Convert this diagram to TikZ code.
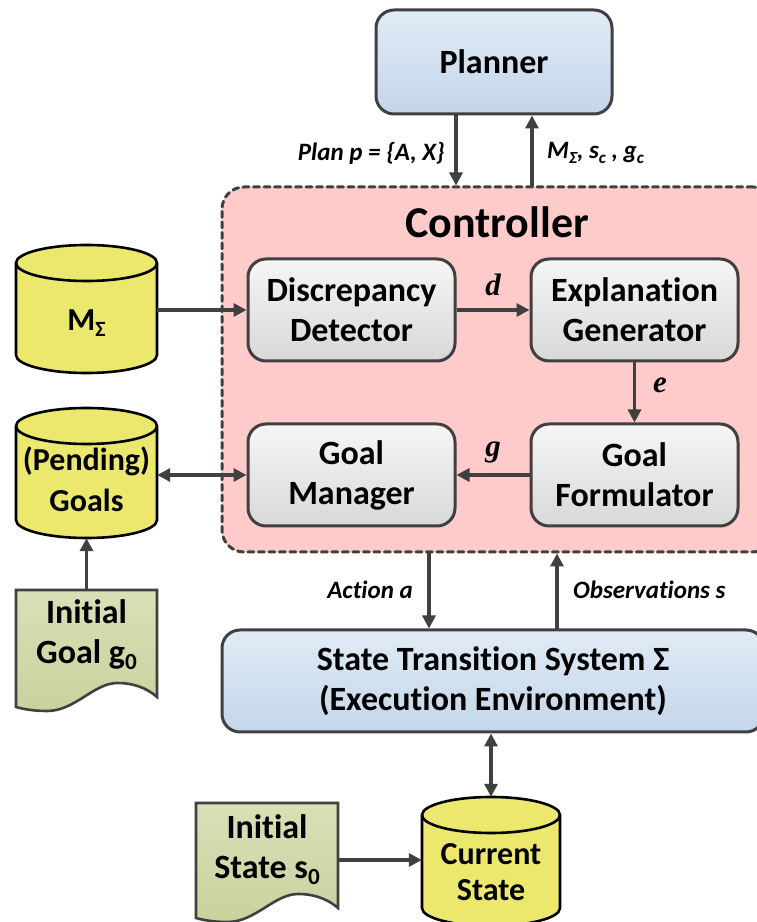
\documentclass[tikz,border=0pt]{standalone}
\usepackage{fontspec}
\setmainfont[Ligatures=NoCommon]{Carlito}
\newfontfamily\serifit{Liberation Serif}
\usepackage{graphicx}
\usetikzlibrary{arrows.meta,calc}
\definecolor{edge}{HTML}{404040}
\definecolor{ctrlfill}{HTML}{FFCACA}
\definecolor{cylfill}{HTML}{ECE86E}
\definecolor{bluetop}{HTML}{E1EBF5}
\definecolor{bluebot}{HTML}{C3D6EA}
\definecolor{graytop}{HTML}{F6F6F6}
\definecolor{graybot}{HTML}{D8D8D8}
\definecolor{doctop}{HTML}{D9E0B7}
\definecolor{docbot}{HTML}{C8D29E}
\newcommand{\lowsub}[1]{\raisebox{-0.38ex}{\scalebox{0.68}{#1}}}
\newcommand{\cylshape}[6]{%
  \filldraw[cylst] ({#1},{#3-#6}) -- ({#1},{#4+#6})
    arc[start angle=180,end angle=360,x radius=#5pt,y radius=#6pt]
    -- ({#2},{#3-#6})
    arc[start angle=0,end angle=180,x radius=#5pt,y radius=#6pt] -- cycle;
  \draw[cylst,fill=none] ({#1},{#3-#6})
    arc[start angle=180,end angle=360,x radius=#5pt,y radius=#6pt];}
\newcommand{\docshape}[4]{%
  \filldraw[docst] (#1,#3) -- ({#1+#2},#3) -- ({#1+#2},#4)
    .. controls ({#1+0.92*#2},{#4+10}) and ({#1+0.82*#2},{#4+14}) .. ({#1+0.72*#2},{#4+14})
    .. controls ({#1+0.55*#2},{#4+14}) and ({#1+0.42*#2},{#4-14}) .. ({#1+0.22*#2},{#4-14})
    .. controls ({#1+0.12*#2},{#4-14}) and ({#1+0.05*#2},{#4-12}) .. (#1,{#4-10}) -- cycle;}
\begin{document}
\begin{tikzpicture}[x=1pt,y=1pt,
  bigtxt/.style={font=\fontsize{34}{40}\selectfont\bfseries, align=center},
  inner/.style={bigtxt, draw=edge, line width=3pt, rounded corners=18pt,
    top color=graytop, bottom color=graybot, minimum width=207pt, minimum height=102pt, inner sep=0pt},
  bluebox/.style={bigtxt, draw=edge, line width=3pt, rounded corners=18pt,
    top color=bluetop, bottom color=bluebot, inner sep=0pt},
  ctrlbox/.style={draw=edge, line width=3pt, dash pattern=on 6pt off 4.5pt, line cap=round,
    rounded corners=22pt, fill=ctrlfill, minimum width=553pt, minimum height=365pt},
  cylst/.style={draw=black, line width=2.6pt, fill=cylfill},
  docst/.style={draw=edge, line width=2.6pt, top color=doctop, bottom color=docbot},
  anchorbox/.style={draw=none, inner sep=0pt},
  arr/.style={draw=edge, line width=3.2pt, -{Triangle[length=13pt,width=13pt]}},
  biarr/.style={draw=edge, line width=3.2pt, {Triangle[length=13pt,width=13pt]}-{Triangle[length=13pt,width=13pt]}},
  lab/.style={font=\fontsize{25}{28}\selectfont\bfseries\itshape, inner sep=0pt},
  letter/.style={font=\serifit\fontsize{31}{32}\selectfont\bfseries\itshape, inner sep=0pt}
]
\clip (0,0) rectangle (757,922);

% Controller region
\node[ctrlbox] (ctrl) at (498.5,552.5) {};
\node[font=\fontsize{44}{48}\selectfont\bfseries] (ctitle) at (497,700) {Controller};

% Planner and environment
\node[bluebox, minimum width=236pt, minimum height=104pt] (planner) at (494,860) {Planner};
\node[bluebox, minimum width=542pt, minimum height=102pt] (sts) at (493,241)
  {State Transition System Σ\\(Execution Environment)};

% Inner boxes
\node[inner] (dd) at (351.5,612) {Discrepancy\\Detector};
\node[inner] (eg) at (634.5,612) {Explanation\\Generator};
\node[inner] (gm) at (351.5,447) {Goal\\Manager};
\node[inner] (gf) at (634.5,447) {Goal\\Formulator};

% Cylinders
\cylshape{16}{157}{677}{549}{70.5}{18}
\node[anchorbox, minimum width=141pt, minimum height=128pt] (msig) at (86.5,613) {};
\node[bigtxt, font=\fontsize{32}{38}\selectfont\bfseries] (msigtxt) at (86.5,599) {M\lowsub{Σ}};

\cylshape{16}{157}{514}{384}{70.5}{18}
\node[anchorbox, minimum width=141pt, minimum height=130pt] (pg) at (86.5,449) {};
\node[bigtxt, font=\fontsize{32}{41}\selectfont\bfseries] (pgtxt) at (86.5,443) {(Pending)\\Goals};

\cylshape{422}{560}{125}{-4}{69}{18}
\node[anchorbox, minimum width=138pt, minimum height=129pt] (cs) at (491,60.5) {};
\node[bigtxt, font=\fontsize{32}{36}\selectfont\bfseries] (cstxt) at (491,50) {Current\\State};

% Documents
\docshape{16}{141}{332}{225}
\node[anchorbox, minimum width=141pt, minimum height=90pt] (ig) at (86.5,287) {};
\node[bigtxt] (igtxt) at (86.5,287) {Initial\\Goal g\lowsub{0}};

\docshape{196}{142}{119}{14}
\node[anchorbox, minimum width=142pt, minimum height=110pt] (is) at (267,62) {};
\node[bigtxt] (istxt) at (267,72) {Initial\\State s\lowsub{0}};

% Connectors
\coordinate (pdn) at (456,808);
\coordinate (pup) at (532,735);
\draw[arr] (pdn) -- (pdn |- ctrl.north);
\draw[arr] (pup) -- (pup |- planner.south);
\node[lab, anchor=east] (planlab) at (445,769) {Plan p = \{A, X\}};
\node[lab, anchor=west] (mlab) at (547,769) {M\lowsub{Σ}, s\lowsub{c} , g\lowsub{c}};

\draw[arr] (dd.west -| msig.east) -- (dd.west);
\draw[arr] (dd.east) -- (eg.west);
\node[letter] (dlab) at (493,637) {d};
\draw[arr] (eg.south) -- (gf.north);
\node[letter] (elab) at (660,537) {e};
\draw[arr] (gf.west) -- (gm.east);
\node[letter] (glab) at (493,470) {g};
\draw[biarr] (gm.west -| pg.east) -- (gm.west);
\draw[arr] (ig.north) -- (pg.south);

\coordinate (act) at (429,370);
\coordinate (obs) at (557,292);
\draw[arr] (act) -- (act |- sts.north);
\draw[arr] (obs) -- (obs |- ctrl.south);
\node[lab, anchor=east] (actlab) at (413,332) {Action a};
\node[lab, anchor=west] (obslab) at (573,332) {Observations s};

\draw[biarr] (cs.north |- sts.south) -- (cs.north);
\draw[arr] (is.east) -- (is.east -| cs.west);
\end{tikzpicture}
\end{document}
